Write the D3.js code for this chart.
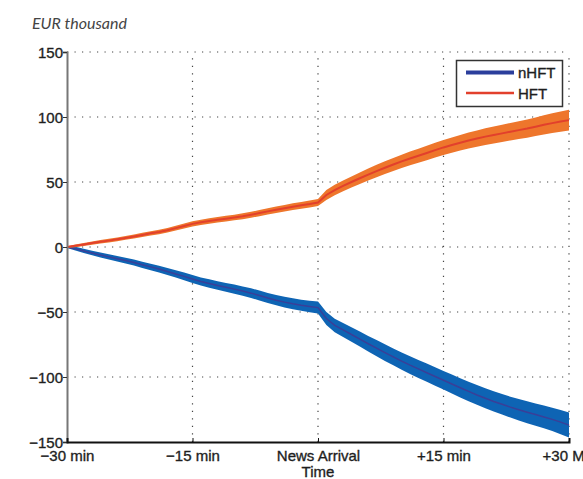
<!DOCTYPE html>
<html>
<head>
<meta charset="utf-8">
<script src="https://cdn.jsdelivr.net/npm/d3@7/dist/d3.min.js"></script>
<style>
  html, body { margin: 0; padding: 0; background: #fff; }
  svg { display: block; }
</style>
</head>
<body>
<div id="chart"></div>
<script>
// Minutes relative to the news arrival
const minutes = [-30,-29,-28,-27,-26,-25,-24,-23,-22,-21,-20,-19,-18,-17,-16,-15,-14,-13,-12,-11,-10,-9,-8,-7,-6,-5,-4,-3,-2,-1,0,
  1,2,3,4,5,6,7,8,9,10,11,12,13,14,15,16,17,18,19,20,21,22,23,24,25,26,27,28,29,30];

// Cumulative profit, EUR thousand — HFT (mean and half-width of confidence band)
const hftMean = [0,0.9,1.9,3.0,4.0,4.9,5.9,7.0,8.1,9.3,10.5,11.6,12.9,14.5,16.2,17.8,19.0,20.0,20.9,21.8,22.7,23.6,24.8,26.1,27.4,28.6,29.8,31.0,32.1,33.0,34.2,
  40.0,43.8,47.0,50.0,52.9,55.7,58.4,61.0,63.5,65.9,68.1,70.2,72.3,74.5,76.6,78.4,80.2,81.9,83.4,84.9,86.2,87.4,88.7,89.9,91.1,92.5,94.0,95.3,96.5,97.6];
const hftBand = [0.6,1.0,1.1,1.2,1.3,1.4,1.5,1.5,1.6,1.6,1.7,1.7,1.8,1.9,1.9,2.0,2.0,2.1,2.1,2.2,2.2,2.3,2.3,2.4,2.4,2.5,2.5,2.6,2.6,2.7,2.7,
  3.8,4.0,4.2,4.3,4.5,4.6,4.8,4.9,5.0,5.1,5.3,5.4,5.5,5.6,5.8,5.9,6.0,6.1,6.2,6.4,6.5,6.6,6.7,6.9,7.0,7.2,7.4,7.6,7.8,8.0];

// Cumulative profit, EUR thousand — nHFT (mean and half-width of confidence band)
const nhftMean = [0,-1.3,-3.0,-4.6,-6.2,-7.6,-9.0,-10.4,-12.0,-13.7,-15.3,-17.0,-18.8,-20.7,-22.6,-24.6,-26.5,-28.1,-29.6,-31.0,-32.4,-33.9,-35.5,-37.3,-39.2,-40.9,-42.4,-43.7,-44.8,-45.7,-46.6,
  -55.0,-60.3,-63.8,-67.3,-70.8,-74.4,-77.8,-81.2,-84.5,-87.8,-90.9,-93.8,-96.7,-99.6,-102.5,-105.4,-108.3,-111.1,-113.8,-116.3,-118.8,-121.0,-123.2,-125.2,-127.1,-128.9,-130.7,-132.6,-134.7,-137.0];
const nhftBand = [0.8,1.4,1.6,1.8,1.9,2.0,2.1,2.2,2.3,2.4,2.5,2.6,2.7,2.8,2.9,3.0,3.1,3.2,3.3,3.4,3.5,3.6,3.7,3.8,3.9,4.0,4.1,4.2,4.3,4.4,4.6,
  5.0,5.2,5.4,5.6,5.8,6.0,6.2,6.4,6.5,6.6,6.8,6.9,7.0,7.1,7.2,7.3,7.4,7.5,7.6,7.7,7.8,7.9,8.0,8.2,8.4,8.6,8.8,9.0,9.3,9.6];

const xTicks = [-30, -15, 0, 15, 30];
const xTickLabels = ["\u221230 min", "\u221215 min", "News Arrival", "+15 min", "+30 Min"];
const yTicks = [-150, -100, -50, 0, 50, 100, 150];
const seriesNames = ["nHFT", "HFT"];

const W = 583, H = 479;
const m = { left: 67, right: 14, top: 52, bottom: 37 };

const svg = d3.select("#chart").append("svg")
  .attr("width", W).attr("height", H)
  .style("font-family", "'Liberation Sans', Arial, sans-serif");

const x = d3.scaleLinear().domain([-30, 30]).range([m.left, W - m.right]);
const y = d3.scaleLinear().domain([-150, 150]).range([H - m.bottom, m.top]);

// Unit label
svg.append("text")
  .attr("x", 32).attr("y", 29)
  .style("font-family", "Lato, 'Open Sans', sans-serif")
  .style("font-style", "italic")
  .style("font-size", "16px")
  .attr("fill", "#444")
  .text("EUR thousand");

// Dotted grid
const grid = svg.append("g").attr("stroke", "#444").attr("stroke-width", 1.2)
  .attr("stroke-dasharray", "1.2,6.3").attr("stroke-linecap", "butt");
yTicks.filter(v => v > -150).forEach(v => {
  grid.append("line").attr("x1", x(-30)).attr("x2", x(30)).attr("y1", y(v)).attr("y2", y(v));
});
xTicks.filter(v => v > -30).forEach(v => {
  grid.append("line").attr("x1", x(v)).attr("x2", x(v)).attr("y1", y(-150)).attr("y2", y(150));
});

// Confidence bands and mean lines
const rows = minutes.map((t, i) => ({ t, hm: hftMean[i], hb: hftBand[i], nm: nhftMean[i], nb: nhftBand[i] }));

const bandArea = (mean, band) => d3.area()
  .x(d => x(d.t)).y0(d => y(d[mean] - d[band])).y1(d => y(d[mean] + d[band]));
const meanLine = key => d3.line().x(d => x(d.t)).y(d => y(d[key]));

svg.append("path").datum(rows).attr("d", bandArea("nm", "nb")).attr("fill", "#0e64b4");
svg.append("path").datum(rows).attr("d", meanLine("nm")).attr("fill", "none")
  .attr("stroke", "#3a3f98").attr("stroke-width", 1.5);

svg.append("path").datum(rows).attr("d", bandArea("hm", "hb")).attr("fill", "#ee762c");
svg.append("path").datum(rows).attr("d", meanLine("hm")).attr("fill", "none")
  .attr("stroke", "#e2402c").attr("stroke-width", 2);

// Axis and legend labels: a hairline outline gives them a slightly heavier weight
const labelStyle = sel => sel.attr("fill", "#1e1e1e").attr("stroke", "#1e1e1e")
  .attr("stroke-width", 0.35).style("font-size", "15px");

// Left axis
const yAxis = svg.append("g").attr("transform", `translate(${m.left},0)`)
  .call(d3.axisLeft(y).tickValues(yTicks).tickSize(4).tickPadding(0)
    .tickFormat(d => d < 0 ? "\u2212" + Math.abs(d) : String(d)));
yAxis.select(".domain").attr("stroke", "#777").attr("stroke-width", 2);
yAxis.selectAll(".tick line").attr("stroke", "#333");
labelStyle(yAxis.selectAll("text")).attr("dy", "0.35em");

// Bottom axis
const xAxis = svg.append("g").attr("transform", `translate(0,${y(-150)})`)
  .call(d3.axisBottom(x).tickValues(xTicks).tickSize(-4).tickPadding(8.5)
    .tickFormat((d, i) => xTickLabels[i]));
xAxis.select(".domain").attr("stroke", "#111").attr("stroke-width", 2);
xAxis.selectAll(".tick line").attr("stroke", "#111");
labelStyle(xAxis.selectAll("text"));

labelStyle(svg.append("text")
  .attr("x", x(0)).attr("y", 477)
  .attr("text-anchor", "middle"))
  .text("Time");

// Legend
const lg = svg.append("g");
lg.append("rect").attr("x", 456.5).attr("y", 60.5).attr("width", 106).attr("height", 46)
  .attr("fill", "#fff").attr("stroke", "#333").attr("stroke-width", 1.5);
const legendColors = ["#2b3e9c", "#e2402c"];
const legendWidths = [4, 2.5];
seriesNames.forEach((name, i) => {
  const cy = 72.5 + i * 20.5;
  lg.append("line").attr("x1", 466).attr("x2", 514).attr("y1", cy).attr("y2", cy)
    .attr("stroke", legendColors[i]).attr("stroke-width", legendWidths[i]);
  labelStyle(lg.append("text").attr("x", 518).attr("y", cy + 5.5))
    .text(name);
});
</script>
</body>
</html>
